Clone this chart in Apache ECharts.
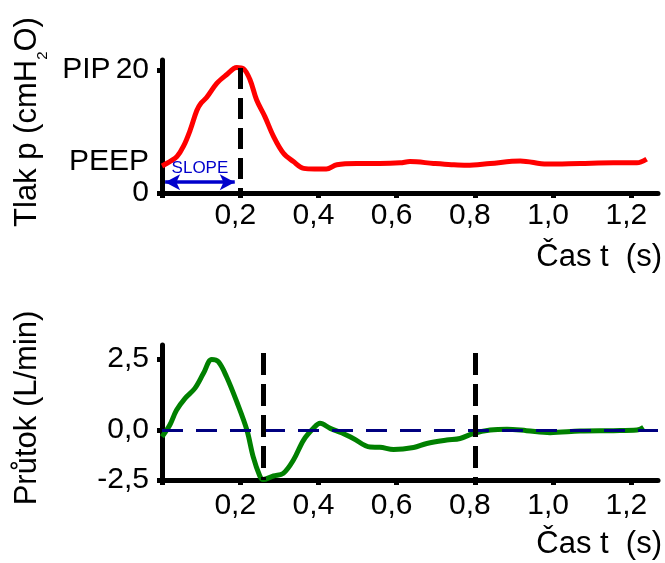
<!DOCTYPE html>
<html><head><meta charset="utf-8">
<script src="https://cdn.jsdelivr.net/npm/echarts@6/dist/echarts.min.js"></script>
<style>html,body{margin:0;padding:0;background:#fff}#c{width:665px;height:563px}</style>
</head><body><div id="c"></div>
<script>
// ---- data ----
const pressureTime = [0, 0.02, 0.038, 0.055, 0.072, 0.089, 0.1, 0.114, 0.14, 0.165, 0.191, 0.208, 0.225, 0.242, 0.263, 0.285, 0.31, 0.336, 0.362, 0.39, 0.42, 0.447, 0.498, 0.557, 0.609, 0.634, 0.694, 0.74, 0.779, 0.839, 0.916, 0.984, 1.069, 1.154, 1.214, 1.239];
const pressure     = [4.4, 5.1, 5.9, 7.6, 10.2, 13.4, 14.6, 15.5, 17.8, 19.2, 20.4, 20.2, 18.4, 15.1, 12.4, 9.2, 6.5, 5.1, 4.0, 3.9, 3.9, 4.6, 4.8, 4.8, 4.9, 5.1, 4.8, 4.6, 4.5, 4.8, 5.2, 4.7, 4.8, 4.9, 4.9, 5.5];

const flowTime = [0, 0.02, 0.037, 0.059, 0.084, 0.106, 0.127, 0.144, 0.165, 0.191, 0.217, 0.233, 0.25, 0.258, 0.285, 0.31, 0.336, 0.362, 0.387, 0.404, 0.43, 0.459, 0.489, 0.532, 0.557, 0.592, 0.643, 0.677, 0.728, 0.762, 0.796, 0.839, 0.882, 0.932, 0.992, 1.069, 1.154, 1.214, 1.231];
const flow     = [-0.33, 0.18, 0.70, 1.12, 1.47, 2.0, 2.49, 2.41, 1.88, 1.0, 0.0, -1.33, -2.3, -2.48, -2.3, -2.17, -1.5, -0.5, 0.06, 0.24, 0.06, -0.13, -0.42, -0.85, -0.86, -0.97, -0.87, -0.67, -0.5, -0.42, -0.17, 0.0, 0.03, -0.03, -0.13, -0.05, -0.03, 0.0, 0.1];

const timeTickValues = [0, 0.2, 0.4, 0.6, 0.8, 1.0, 1.2];
const timeLabelValues = [0.2, 0.4, 0.6, 0.8, 1.0, 1.2];
const pressureLabelValues = [0, 5, 20];
const pressureLabelTexts = ['0', 'PEEP', '{p|PIP}20'];
const pressureTickValues = [0, 20];
const flowLabelValues = [-2.5, 0, 2.5];

const pressureMarkers = [0.2];          // vertical dashed line (s)
const flowMarkers = [0.258, 0.8];       // vertical dashed lines (s)
const slopeStart = 0.008, slopeEnd = 0.186, slopeLevel = 1.75;

// The reference's flow axis is drawn with a compressed negative side
// (0 -> -2,5 spans less than 0 -> 2,5); reproduce that scale.
const NEG = 20 / 28.4;
const toPlot = v => v < 0 ? v * NEG : v;
const fromPlot = v => v < 0 ? v / NEG : v;

const FONT = 'Liberation Sans, Arial, sans-serif';
const TICK_FS = 30;
const TITLE_FS = 31;
const comma = v => v.toFixed(1).replace('.', ',');

function xAxisCfg(gi, margin) {
  return {
    type: 'value', gridIndex: gi, min: 0, max: 1.268,
    axisLine: { show: true, onZero: false, lineStyle: { color: '#000', width: 5 } },
    axisTick: { show: true, customValues: timeTickValues, length: 5, lineStyle: { color: '#000', width: 5 } },
    axisLabel: { customValues: timeLabelValues, formatter: comma, fontSize: TICK_FS, fontFamily: FONT, color: '#000', margin: margin, padding: [0, 10, 0, 0] },
    splitLine: { show: false }
  };
}

const chart = echarts.init(document.getElementById('c'), null, { renderer: 'canvas' });
chart.setOption({
  animation: false,
  backgroundColor: '#fff',
  grid: [
    { left: 162, right: 7, top: 60, bottom: 370 },
    { left: 162, right: 7, top: 345, bottom: 83 }
  ],
  xAxis: [xAxisCfg(0, 8), xAxisCfg(1, 11)],
  yAxis: [
    {
      type: 'value', gridIndex: 0, min: 0, max: 21.6,
      axisLine: { show: true, onZero: false, lineStyle: { color: '#000', width: 5 } },
      axisTick: { show: true, customValues: pressureTickValues, length: 5, lineStyle: { color: '#000', width: 5 } },
      axisLabel: {
        customValues: pressureLabelValues,
        formatter: v => pressureLabelTexts[pressureLabelValues.indexOf(v)] || '',
        fontSize: TICK_FS, fontFamily: FONT, color: '#000', margin: 13,
        rich: { p: { fontSize: TICK_FS, fontFamily: FONT, color: '#000', padding: [0, 5, 0, 0] } }
      },
      splitLine: { show: false }
    },
    {
      type: 'value', gridIndex: 1, min: toPlot(-2.5), max: 3.0,
      axisLine: { show: true, onZero: false, lineStyle: { color: '#000', width: 5 } },
      axisTick: { show: true, customValues: flowLabelValues.map(toPlot), length: 5, lineStyle: { color: '#000', width: 5 } },
      axisLabel: {
        customValues: flowLabelValues.map(toPlot),
        formatter: v => comma(fromPlot(v)),
        fontSize: TICK_FS, fontFamily: FONT, color: '#000', margin: 13
      },
      splitLine: { show: false }
    }
  ],
  series: [
    {
      type: 'line', xAxisIndex: 0, yAxisIndex: 0,
      data: pressureTime.map((t, i) => [t, pressure[i]]),
      smooth: 0.35, symbol: 'none',
      lineStyle: { color: '#ff0000', width: 5 },
      markLine: {
        silent: true, animation: false, symbol: 'none',
        label: { show: false },
        data: pressureMarkers.map(t => [
          { coord: [t, 20.3], lineStyle: { color: '#000', width: 5, type: [21, 9] } },
          { coord: [t, 0] }
        ]).concat([[
          { coord: [slopeStart, slopeLevel], symbol: 'arrow', symbolSize: [12, 15],
            lineStyle: { color: '#0000cc', width: 3.5, type: 'solid' },
            label: { show: true, formatter: 'SLOPE', position: 'insideMiddleTop', distance: 5, color: '#0000cc', fontSize: 17, fontFamily: FONT } },
          { coord: [slopeEnd, slopeLevel], symbol: 'arrow', symbolSize: [12, 15] }
        ]])
      }
    },
    {
      type: 'line', xAxisIndex: 1, yAxisIndex: 1,
      data: flowTime.map((t, i) => [t, toPlot(flow[i])]),
      smooth: 0.35, symbol: 'none',
      lineStyle: { color: '#008000', width: 5 },
      markLine: {
        silent: true, animation: false, symbol: 'none',
        label: { show: false },
        data: [
          { yAxis: 0, lineStyle: { color: '#000080', width: 3, type: [21, 13] } }
        ].concat(flowMarkers.map(t => [
          { coord: [t, 2.72], lineStyle: { color: '#000', width: 5, type: [22, 9] } },
          { coord: [t, toPlot(-2.5)] }
        ]))
      }
    }
  ],
  graphic: [
    { type: 'text', x: 662, y: 257, style: { text: 'Čas t  (s)', align: 'right', verticalAlign: 'middle', fontSize: TITLE_FS, fontFamily: FONT, fill: '#000' } },
    { type: 'text', x: 662, y: 544, style: { text: 'Čas t  (s)', align: 'right', verticalAlign: 'middle', fontSize: TITLE_FS, fontFamily: FONT, fill: '#000' } },
    { type: 'text', x: 27, y: 122, rotation: Math.PI / 2,
      style: { text: '{m|Tlak p (cmH}{s|2}{m|O)}', align: 'center', verticalAlign: 'middle', fill: '#000',
        rich: { m: { fontSize: TITLE_FS, fontFamily: FONT, lineHeight: 46, fill: '#000' },
                s: { fontSize: 15, fontFamily: FONT, lineHeight: 46, verticalAlign: 'bottom', fill: '#000' } } } },
    { type: 'text', x: 27, y: 408, rotation: Math.PI / 2,
      style: { text: 'Průtok (L/min)', align: 'center', verticalAlign: 'middle', fontSize: TITLE_FS, fontFamily: FONT, fill: '#000' } }
  ]
});
</script>
</body></html>
